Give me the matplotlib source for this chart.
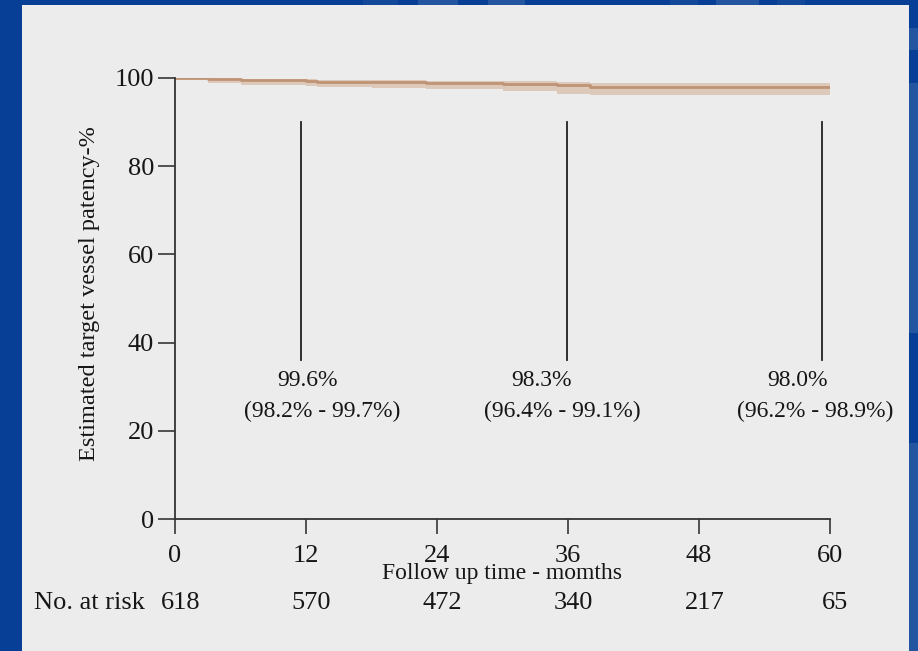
import matplotlib.pyplot as plt
from matplotlib.patches import Rectangle

plt.rcParams['font.family'] = ['Liberation Serif', 'DejaVu Serif']

# Kaplan-Meier step estimate with 95% CI
step_months = [0, 3, 6, 12, 13, 18, 23, 30, 35, 38, 60]
patency = [100, 99.8, 99.6, 99.35, 99.2, 99.0, 98.8, 98.6, 98.3, 98.0, 98.0]
ci_upper = [100, 99.9, 99.8, 99.7, 99.6, 99.5, 99.35, 99.25, 99.1, 98.9, 98.9]
ci_lower = [100, 98.8, 98.5, 98.2, 98.0, 97.8, 97.5, 97.1, 96.4, 96.2, 96.2]

# annotation markers
marker_months = [11.55, 35.9, 59.25]
marker_estimates = ["99.6%", "98.3%", "98.0%"]
marker_cis = ["(98.2% - 99.7%)", "(96.4% - 99.1%)", "(96.2% - 98.9%)"]
estimate_months = [12.1, 33.6, 57.0]
ci_months = [13.5, 35.45, 58.6]

# number at risk table
risk_months = [0, 12, 24, 36, 48, 60]
at_risk = [618, 570, 472, 340, 217, 65]

W, H = 918, 651
fig = plt.figure(figsize=(W / 100, H / 100), dpi=100, facecolor='#073f96')


def px_rect(x0, y0, x1, y1, color, z):
    # rectangle given in pixels from top-left
    fig.patches.append(Rectangle((x0 / W, 1 - y1 / H), (x1 - x0) / W,
                                 (y1 - y0) / H, transform=fig.transFigure,
                                 facecolor=color, edgecolor='none', zorder=z))


# lighter streaks of the slide background
for x0, x1, c in [(363, 398, '#12479a'), (418, 458, '#2355a0'),
                  (488, 525, '#2355a0'), (670, 698, '#12479a'),
                  (716, 759, '#2355a0'), (777, 805, '#12479a')]:
    px_rect(x0, 0, x1, 5, c, -11)
for y0, y1 in [(28, 50), (83, 333), (443, 651)]:
    px_rect(909, y0, 918, y1, '#2355a0', -11)

# slide panel
px_rect(22, 5, 909, 651, '#ececec', -10)

ax = fig.add_axes([175 / W, 132 / H, 655 / W, 441 / H])
ax.set_facecolor('none')

ax.fill_between(step_months, ci_lower, ci_upper, step='post',
                color='#dcc6b5', alpha=0.9, lw=0)
ax.step(step_months, patency, where='post', color='#bf9475', lw=2)

txt = '#161616'
for m, est, ci, em, cm in zip(marker_months, marker_estimates, marker_cis,
                              estimate_months, ci_months):
    ax.plot([m, m], [36, 90], color='#222222', lw=1.3)
    ax.text(em, 31.3, est, ha='center', va='center', fontsize=17, color=txt)
    ax.text(cm, 24.5, ci, ha='center', va='center', fontsize=17, color=txt)

ax.set_xlim(0, 60)
ax.set_ylim(0, 100)
ax.set_xticks(risk_months)
ax.set_yticks([0, 20, 40, 60, 80, 100])
ax.spines['top'].set_visible(False)
ax.spines['right'].set_visible(False)
for s in ['left', 'bottom']:
    ax.spines[s].set_color('#333333')
    ax.spines[s].set_linewidth(1.3)
ax.tick_params(axis='y', length=12, width=1.3, color='#444444', pad=3,
               labelsize=19, labelcolor=txt)
ax.tick_params(axis='x', length=11, width=1.3, color='#444444', pad=8,
               labelsize=19, labelcolor=txt)

ax.set_xlabel('Follow up time - momths', fontsize=17, color=txt)
ax.xaxis.set_label_coords(0.5, -0.1)
ax.set_ylabel('Estimated target vessel patency-%', fontsize=17.5, color=txt)
ax.yaxis.set_label_coords(-0.115, 0.512)

row_y = -0.19
ax.text(-0.13, row_y, 'No. at risk', transform=ax.transAxes, ha='center',
        va='center', fontsize=19, color=txt)
for m, n in zip(risk_months, at_risk):
    ax.text(m + 0.5, row_y, str(n), transform=ax.get_xaxis_transform(),
            ha='center', va='center', fontsize=19, color=txt)

fig.savefig('out.png', dpi=100, facecolor=fig.get_facecolor())
